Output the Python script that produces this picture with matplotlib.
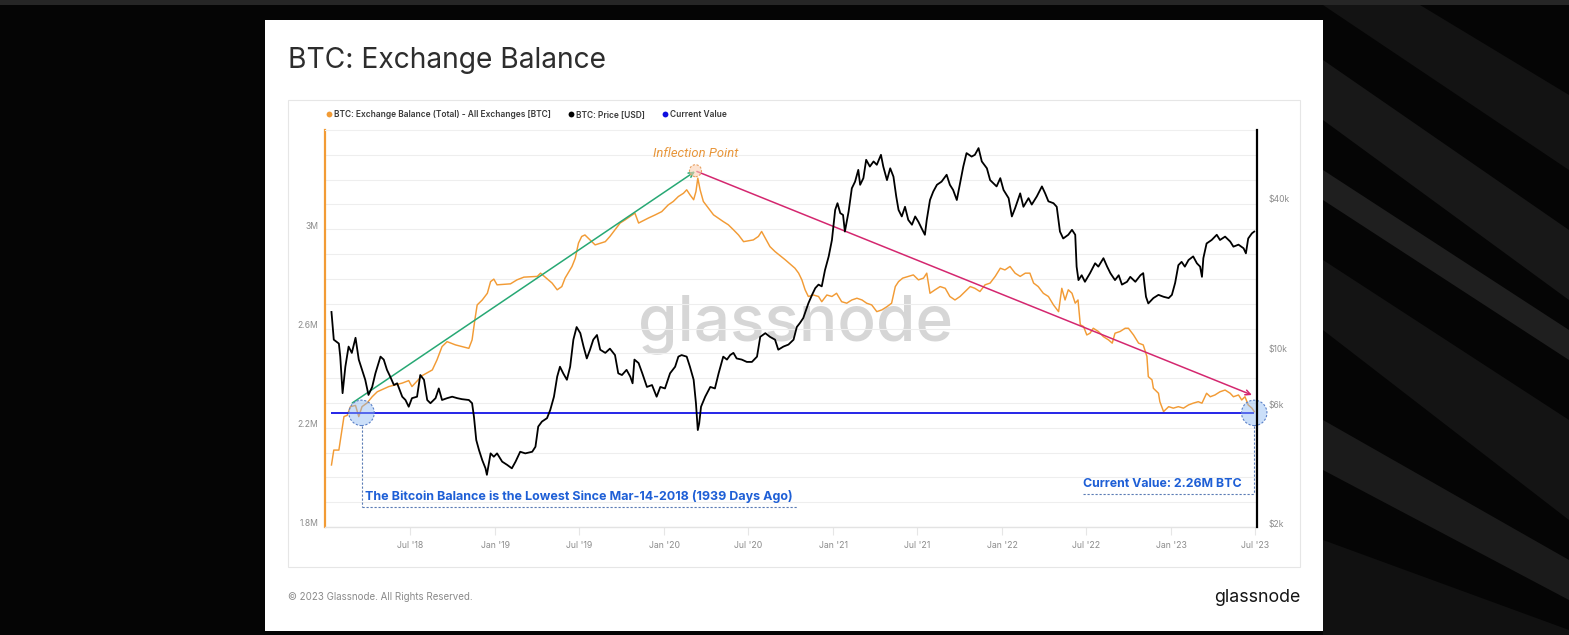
import numpy as np
import matplotlib
matplotlib.use("Agg")
import matplotlib.pyplot as plt
import matplotlib.dates as mdates
from matplotlib.patches import Rectangle, Circle, Polygon
from matplotlib.transforms import ScaledTranslation, blended_transform_factory
from matplotlib.ticker import FixedLocator, FixedFormatter, NullLocator

# ---------------- data ----------------
# days since 2018-01-01
balance_day = [11, 16, 27, 38, 45, 52, 63, 70, 77, 88,
               99, 110, 135, 164, 178, 185, 207, 229, 239, 250,
               261, 279, 308, 315, 321, 326, 337, 348, 355, 362,
               369, 398, 412, 427, 456, 463, 488, 499, 509, 516,
               531, 538, 545, 552, 559, 581, 603, 613, 624, 635,
               646, 667, 675, 696, 711, 725, 739, 750, 761, 772,
               779, 786, 794, 799, 803, 808, 815, 826, 837, 858,
               869, 880, 891, 902, 923, 934, 941, 959, 970, 992,
               1013, 1021, 1028, 1035, 1042, 1053, 1064, 1071, 1082, 1093,
               1103, 1114, 1125, 1136, 1147, 1158, 1168, 1179, 1190, 1201,
               1212, 1222, 1230, 1237, 1246, 1258, 1269, 1280, 1291, 1298,
               1305, 1316, 1327, 1338, 1348, 1359, 1370, 1381, 1392, 1402,
               1413, 1424, 1435, 1446, 1457, 1467, 1478, 1489, 1500, 1511,
               1521, 1529, 1539, 1550, 1561, 1572, 1583, 1590, 1597, 1604,
               1612, 1619, 1625, 1630, 1637, 1644, 1651, 1658, 1669, 1680,
               1691, 1699, 1705, 1716, 1727, 1734, 1745, 1756, 1766, 1774,
               1777, 1785, 1788, 1799, 1802, 1810, 1821, 1831, 1842, 1853,
               1864, 1874, 1885, 1893, 1903, 1911, 1921, 1932, 1943, 1954,
               1961, 1972, 1979, 1986, 1993, 2001, 2006]
# exchange balance, million BTC
balance_m = [2.05, 2.11, 2.11, 2.245, 2.25, 2.285, 2.29, 2.245, 2.285, 2.30,
             2.325, 2.345, 2.366, 2.38, 2.39, 2.366, 2.41, 2.433, 2.473, 2.527,
             2.547, 2.534, 2.52, 2.554, 2.635, 2.695, 2.715, 2.742, 2.789, 2.799,
             2.776, 2.78, 2.796, 2.807, 2.81, 2.823, 2.783, 2.756, 2.769, 2.803,
             2.85, 2.883, 2.944, 2.971, 2.977, 2.937, 2.95, 2.971, 2.998, 3.025,
             3.038, 3.065, 3.025, 3.045, 3.058, 3.071, 3.098, 3.112, 3.132, 3.145,
             3.159, 3.139, 3.119, 3.152, 3.206, 3.159, 3.112, 3.085, 3.058, 3.031,
             3.018, 2.998, 2.977, 2.95, 2.957, 2.971, 2.991, 2.930, 2.910, 2.877,
             2.843, 2.823, 2.796, 2.756, 2.729, 2.735, 2.729, 2.708, 2.735, 2.729,
             2.742, 2.708, 2.702, 2.715, 2.722, 2.715, 2.702, 2.695, 2.668, 2.675,
             2.688, 2.702, 2.769, 2.789, 2.803, 2.810, 2.816, 2.796, 2.803, 2.823,
             2.742, 2.756, 2.769, 2.762, 2.729, 2.715, 2.729, 2.749, 2.769, 2.762,
             2.749, 2.776, 2.783, 2.810, 2.843, 2.836, 2.850, 2.823, 2.810, 2.823,
             2.823, 2.783, 2.769, 2.742, 2.729, 2.695, 2.668, 2.762, 2.715, 2.756,
             2.742, 2.702, 2.715, 2.615, 2.608, 2.574, 2.581, 2.601, 2.588, 2.567,
             2.554, 2.541, 2.581, 2.588, 2.601, 2.601, 2.574, 2.541, 2.534, 2.487,
             2.406, 2.393, 2.359, 2.339, 2.305, 2.265, 2.285, 2.279, 2.285, 2.279,
             2.292, 2.299, 2.305, 2.299, 2.339, 2.325, 2.332, 2.345, 2.352, 2.339,
             2.325, 2.332, 2.312, 2.325, 2.292, 2.279, 2.265]

price_day = [11, 16, 27, 30, 35, 41, 48, 55, 63, 70,
             77, 84, 91, 99, 106, 117, 124, 131, 138, 146,
             153, 164, 171, 178, 185, 196, 203, 211, 218, 225,
             236, 243, 250, 261, 272, 283, 293, 308, 315, 319,
             324, 330, 337, 344, 347, 355, 362, 369, 380, 391,
             401, 409, 419, 430, 445, 452, 458, 466, 477, 484,
             492, 499, 505, 512, 520, 527, 534, 541, 549, 556,
             563, 570, 577, 585, 592, 603, 613, 624, 631, 639,
             649, 657, 662, 666, 675, 683, 693, 704, 714, 722,
             732, 743, 754, 761, 768, 779, 786, 794, 799, 803,
             806, 810, 819, 830, 840, 848, 858, 866, 873, 880,
             887, 898, 909, 920, 931, 938, 949, 959, 970, 977,
             988, 999, 1010, 1017, 1024, 1031, 1042, 1050, 1057, 1064,
             1071, 1078, 1086, 1093, 1100, 1105, 1111, 1117, 1121, 1129,
             1136, 1143, 1150, 1154, 1161, 1167, 1175, 1183, 1190, 1199,
             1204, 1212, 1219, 1226, 1232, 1237, 1244, 1251, 1258, 1266,
             1273, 1280, 1287, 1294, 1298, 1305, 1312, 1320, 1330, 1341,
             1348, 1355, 1363, 1370, 1377, 1384, 1395, 1402, 1410, 1417,
             1428, 1435, 1442, 1449, 1457, 1464, 1475, 1482, 1489, 1500,
             1507, 1518, 1525, 1536, 1547, 1554, 1561, 1572, 1579, 1586,
             1593, 1604, 1612, 1619, 1622, 1626, 1633, 1640, 1651, 1662,
             1669, 1680, 1688, 1695, 1705, 1713, 1720, 1731, 1738, 1749,
             1760, 1766, 1772, 1777, 1788, 1799, 1810, 1821, 1828, 1835,
             1842, 1849, 1856, 1864, 1874, 1882, 1889, 1893, 1896, 1903,
             1914, 1925, 1932, 1943, 1954, 1961, 1972, 1983, 1988, 1993,
             2001, 2006]
# BTC price, thousand USD
price_k = [14.6, 11.3, 10.9, 9.66, 6.89, 8.8, 10.6, 10.0, 11.5, 9.4,
           8.55, 7.8, 6.78, 7.3, 8.28, 9.66, 9.4, 8.55, 8.03, 7.43,
           7.55, 6.67, 6.47, 6.08, 6.58, 6.67, 8.15, 7.8, 6.47, 6.28,
           6.58, 7.2, 6.47, 6.58, 6.67, 6.58, 6.52, 6.47, 6.28, 5.55,
           4.47, 4.07, 3.71, 3.44, 3.24, 3.95, 3.83, 3.95, 3.66, 3.55,
           3.44, 3.66, 4.01, 3.95, 4.01, 4.2, 5.06, 5.3, 5.47, 5.9,
           6.67, 8.03, 8.8, 8.28, 7.8, 8.8, 11.3, 12.7, 12.0, 10.6,
           9.5, 10.3, 11.3, 11.8, 10.3, 10.0, 10.4, 9.8, 8.28, 8.15,
           8.55, 8.03, 7.55, 9.4, 9.1, 8.28, 7.3, 7.43, 6.67, 7.3,
           7.2, 8.28, 8.8, 9.66, 9.8, 9.66, 8.8, 7.8, 6.28, 4.9,
           5.21, 6.08, 6.67, 7.3, 7.2, 8.28, 9.66, 9.4, 9.8, 10.0,
           9.5, 9.4, 9.2, 9.2, 9.66, 11.6, 12.0, 11.6, 11.3, 10.3,
           10.6, 10.8, 11.3, 12.7, 13.2, 13.8, 15.8, 17.1, 18.2, 18.8,
           18.5, 21.5, 24.4, 28.4, 37.5, 39.9, 36.4, 35.8, 30.7, 36.9,
           45.8, 48.7, 54.3, 47.3, 50.3, 59.6, 56.0, 58.7, 56.9, 62.4,
           56.0, 49.4, 55.1, 51.0, 42.5, 37.5, 35.3, 38.6, 34.2, 32.7,
           35.3, 33.6, 31.6, 29.8, 34.2, 41.1, 44.4, 47.3, 48.7, 51.9,
           47.3, 45.1, 41.1, 48.0, 56.0, 63.4, 61.4, 62.4, 66.4, 58.7,
           55.1, 49.4, 48.0, 46.6, 50.3, 45.1, 41.8, 35.3, 38.1, 43.7,
           38.6, 41.8, 39.4, 42.5, 46.6, 43.7, 40.6, 39.9, 38.6, 30.7,
           28.8, 29.8, 31.2, 29.8, 22.2, 19.6, 20.5, 19.3, 20.9, 22.9,
           22.2, 24.0, 22.2, 20.9, 19.6, 20.5, 18.8, 19.3, 20.2, 19.3,
           20.5, 20.9, 16.8, 15.8, 16.6, 17.1, 16.8, 16.6, 17.1, 19.1,
           22.5, 23.2, 22.2, 23.6, 24.4, 22.9, 22.2, 20.2, 24.0, 27.5,
           28.4, 29.8, 28.4, 29.3, 28.0, 26.7, 27.2, 26.3, 25.1, 28.8,
           30.2, 30.7]

current_value_m = 2.26
low_since_date = "2018-03-14"
inflection_date = "2020-03-09"
trend_start_date = "2018-02-26"
trend_end_date = "2023-06-25"

x_tick_dates = ["2018-07-01", "2019-01-01", "2019-07-01", "2020-01-01", "2020-07-01",
                "2021-01-01", "2021-07-01", "2022-01-01", "2022-07-01", "2023-01-01",
                "2023-07-01"]
x_tick_labels = ["Jul '18", "Jan '19", "Jul '19", "Jan '20", "Jul '20", "Jan '21",
                 "Jul '21", "Jan '22", "Jul '22", "Jan '23", "Jul '23"]
left_ticks = [1.8, 2.2, 2.6, 3.0]
left_tick_labels = ["1.8M", "2.2M", "2.6M", "3M"]
right_ticks = [2, 6, 10, 40]
right_tick_labels = ["$2k", "$6k", "$10k", "$40k"]

legend_labels = ["BTC: Exchange Balance (Total) - All Exchanges [BTC]",
                 "BTC: Price [USD]", "Current Value"]

# ---------------- styling ----------------
ORANGE = "#f29b35"
BLACK = "#000000"
BLUE = "#1414e6"
GREEN = "#27a874"
MAGENTA = "#d4276f"
ANN_BLUE = "#1e5fd6"
FONT = ["Inter", "DejaVu Sans"]
plt.rcParams["font.family"] = FONT

W, H, DPI = 1569, 635, 100
fig = plt.figure(figsize=(W / DPI, H / DPI), dpi=DPI)
fig.patch.set_facecolor("#050505")

base = np.datetime64("2018-01-01")
def to_dates(days):
    return base + np.array(days).astype("timedelta64[D]")

bal_dates = to_dates(balance_day)
px_dates = to_dates(price_day)

# background / card layer (pixel coordinates)
bg = fig.add_axes([0, 0, 1, 1], zorder=0)
bg.set_xlim(0, W)
bg.set_ylim(H, 0)
bg.axis("off")
bg.add_patch(Rectangle((0, 0), W, 5, fc="#262626", ec="none"))
for pts, c in [
    ([(1323, 5), (1420, 5), (1569, 95), (1569, 170)], "#131313"),
    ([(1323, 60), (1569, 230), (1569, 300), (1323, 120)], "#181818"),
    ([(1323, 170), (1569, 330), (1569, 360), (1323, 200)], "#1f1f1f"),
    ([(1323, 260), (1569, 420), (1569, 520), (1323, 330)], "#141414"),
    ([(1323, 420), (1569, 560), (1569, 600), (1323, 470)], "#1b1b1b"),
    ([(1323, 540), (1569, 630), (1569, 635), (1323, 635)], "#111111"),
]:
    bg.add_patch(Polygon(pts, closed=True, fc=c, ec="none"))
bg.add_patch(Rectangle((265, 20), 1058, 611, fc="white", ec="none"))
bg.add_patch(Rectangle((288, 100), 1012, 467, fc="none", ec="#e6e6e6", lw=0.8))

bg.text(288, 61, "BTC: Exchange Balance", fontsize=20.3, color="#2d2d2d",
        va="center", ha="left")

legend_items = [(329, legend_labels[0], ORANGE), (571, legend_labels[1], BLACK),
                (665, legend_labels[2], "#1010e0")]
for x0, lab, col in legend_items:
    bg.plot([x0], [114.3], "o", ms=4.2, color=col, mec="none")
    bg.text(x0 + 5, 114.5, lab, fontsize=6.05, color="#3a3a3a", fontweight="semibold",
            va="center", ha="left")

bg.text(288, 597, "\u00a9 2023 Glassnode. All Rights Reserved.", fontsize=7.0,
        color="#8a8a8a", va="center", ha="left")
bg.text(1300, 598, "glassnode", fontsize=12.8, color="#151515", va="center",
        ha="right")

# ---------------- main chart ----------------
L, R, T, B = 325, 1257, 130, 527
ax = fig.add_axes([L / W, 1 - B / H, (R - L) / W, (B - T) / H], zorder=2)
ax.patch.set_alpha(0)
ax2 = ax.twinx()

xmin = base + np.timedelta64(-3, "D")
xmax = base + np.timedelta64(2012, "D")
ax.set_xlim(xmin, xmax)
ax.set_ylim(1.8, 3.4)
ax2.set_yscale("log")
ax2.set_ylim(2.0, 78.5)

# watermark
ax.text(0.505, 0.51, "glassnode", transform=ax.transAxes, fontsize=46,
        color="#d6d6d6", ha="center", va="center", fontweight="medium", zorder=0)

# grid
ax.yaxis.set_major_locator(FixedLocator(left_ticks))
ax.yaxis.set_major_formatter(FixedFormatter(left_tick_labels))
ax.yaxis.set_minor_locator(FixedLocator(np.round(np.arange(1.9, 3.35, 0.1), 2)))
ax.grid(axis="y", which="both", color="#eeeeee", lw=0.8)
ax.set_axisbelow(True)

ax2.yaxis.set_major_locator(FixedLocator(right_ticks))
ax2.yaxis.set_major_formatter(FixedFormatter(right_tick_labels))
ax2.yaxis.set_minor_locator(NullLocator())

xt = np.array(x_tick_dates, dtype="datetime64[D]")
ax.set_xticks(xt)
ax.set_xticklabels(x_tick_labels)

ax.tick_params(axis="x", length=6, width=0.8, color="#e6e6e6", labelsize=6.3,
               labelcolor="#8c8c8c", pad=4)
ax.tick_params(axis="y", which="both", length=0, labelsize=6.2, labelcolor="#8c8c8c",
               pad=5)
ax2.tick_params(axis="y", which="both", length=0, labelsize=6.2, labelcolor="#8c8c8c",
                pad=8)
off = ScaledTranslation(0, 0.04, fig.dpi_scale_trans)
for lbl in ax.get_yticklabels() + ax2.get_yticklabels():
    lbl.set_transform(lbl.get_transform() + off)

for a in (ax, ax2):
    for s in a.spines.values():
        s.set_visible(False)
ax.spines["left"].set_visible(True)
ax.spines["left"].set_color(ORANGE)
ax.spines["left"].set_linewidth(1.6)
ax.spines["bottom"].set_visible(True)
ax.spines["bottom"].set_color("#e3e3e3")
ax.spines["bottom"].set_linewidth(1.0)
ax.spines["top"].set_visible(True)
ax.spines["top"].set_color("#efefef")
ax.spines["top"].set_linewidth(0.8)
ax2.spines["right"].set_visible(True)
ax2.spines["right"].set_color(BLACK)
ax2.spines["right"].set_linewidth(1.6)

# series
ax.plot(bal_dates, balance_m, color=ORANGE, lw=1.05, zorder=3, solid_joinstyle="round")
ax2.plot(px_dates, price_k, color=BLACK, lw=1.3, zorder=3, solid_joinstyle="round")

# current value line
ax.hlines(current_value_m, bal_dates[0], bal_dates[-1], color=BLUE, lw=1.3, zorder=4)

# trend arrows
d_start = np.datetime64(trend_start_date)
d_infl = np.datetime64(inflection_date)
d_end = np.datetime64(trend_end_date)
peak = max(balance_m)
ax.annotate("", xy=(d_infl - np.timedelta64(1, "D"), peak + 0.027),
            xytext=(d_start, current_value_m + 0.04),
            arrowprops=dict(arrowstyle="->", color=GREEN, lw=1.1, mutation_scale=9,
                            shrinkA=0, shrinkB=0), zorder=5)
ax.annotate("", xy=(d_end, current_value_m + 0.072),
            xytext=(d_infl + np.timedelta64(3, "D"), peak + 0.027),
            arrowprops=dict(arrowstyle="->", color=MAGENTA, lw=1.1, mutation_scale=9,
                            shrinkA=0, shrinkB=0), zorder=5)


def circle_at(xd, yv, r_px, fc, ec, a):
    tr = fig.dpi_scale_trans + ScaledTranslation(mdates.date2num(xd), yv, a.transData)
    c = Circle((0, 0), r_px / DPI, transform=tr, fc=fc, ec=ec, lw=0.8, ls=(0, (2, 1.5)),
               zorder=6, clip_on=False)
    a.add_patch(c)


d_low = np.datetime64(low_since_date)
d_last = bal_dates[-1]
d_lowc = d_low + np.timedelta64(4, "D")
circle_at(d_infl, peak + 0.03, 6, (0.98, 0.82, 0.70, 0.6), "#e8a060", ax)
circle_at(d_lowc, current_value_m, 12.7, (0.55, 0.72, 0.95, 0.45), "#5a80c8", ax)
circle_at(d_last, current_value_m, 12.7, (0.55, 0.72, 0.95, 0.45), "#5a80c8", ax)

ax.text(d_infl, 3.305, "Inflection Point", color="#e8963a", fontsize=9.4,
        style="italic", ha="center", va="center", family=["Roboto", "DejaVu Sans"])

# dashed callouts
bt = blended_transform_factory(ax.transData, ax.transAxes)
dash = dict(color="#5a7bb5", lw=0.8, ls=(0, (2, 1.6)), transform=bt, clip_on=False, zorder=5)
ax.plot([d_lowc, d_lowc], [0.255, 0.05], **dash)
ax.plot([d_lowc, base + np.timedelta64(1018, "D")], [0.05, 0.05], **dash)
ax.text(base + np.timedelta64(84, "D"), 0.078,
        "The Bitcoin Balance is the Lowest Since Mar-14-2018 (1939 Days Ago)",
        transform=bt, color=ANN_BLUE, fontsize=9.0, fontweight="bold", ha="left",
        va="center", zorder=6)
ax.plot([d_last, d_last], [0.255, 0.083], **dash)
ax.plot([base + np.timedelta64(1636, "D"), d_last], [0.083, 0.083], **dash)
ax.text(base + np.timedelta64(1636, "D"), 0.108, "Current Value: 2.26M BTC",
        transform=bt, color=ANN_BLUE, fontsize=8.9, fontweight="bold", ha="left",
        va="center", zorder=6)

fig.savefig("out.png", dpi=DPI, facecolor=fig.get_facecolor())
